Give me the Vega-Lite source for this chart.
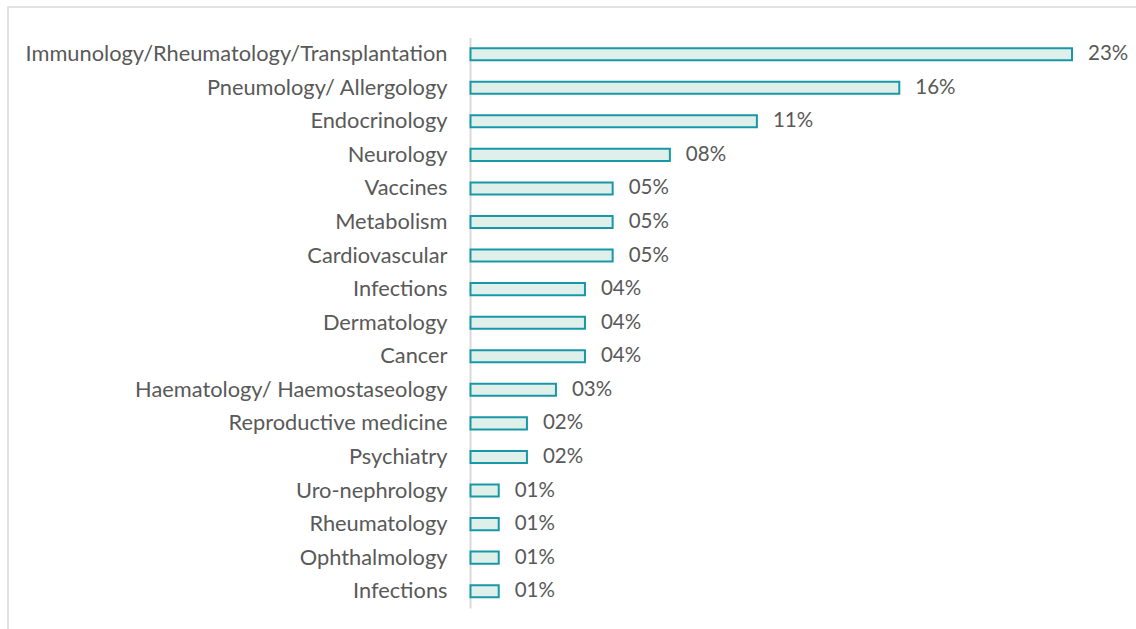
{
  "$schema": "https://vega.github.io/schema/vega-lite/v6.json",
  "width": 1136,
  "height": 630,
  "autosize": "none",
  "padding": {"left": 8, "top": 7, "right": 0, "bottom": 0},
  "config": {"view": {"stroke": "#d9d9d9", "strokeWidth": 1.5}, "font": "Lato"},
  "data": {
    "values": [
      {"category": "Immunology/Rheumatology/Transplantation", "share": 0.2302},
      {"category": "Pneumology/ Allergology", "share": 0.1641},
      {"category": "Endocrinology", "share": 0.1096},
      {"category": "Neurology", "share": 0.0763},
      {"category": "Vaccines", "share": 0.0544},
      {"category": "Metabolism", "share": 0.0544},
      {"category": "Cardiovascular", "share": 0.0544},
      {"category": "Infections", "share": 0.0438},
      {"category": "Dermatology", "share": 0.0438},
      {"category": "Cancer ", "share": 0.0438},
      {"category": "Haematology/ Haemostaseology", "share": 0.0327},
      {"category": "Reproductive medicine", "share": 0.0216},
      {"category": "Psychiatry", "share": 0.0216},
      {"category": "Uro-nephrology", "share": 0.0108},
      {"category": "Rheumatology", "share": 0.0108},
      {"category": "Ophthalmology", "share": 0.0108},
      {"category": "Infections ", "share": 0.0108}
    ]
  },
  "encoding": {
    "y": {
      "field": "category",
      "type": "nominal",
      "sort": null,
      "scale": {"range": [30.4, 601], "paddingInner": 0.64, "paddingOuter": 0.32},
      "axis": {
        "orient": "left",
        "offset": -462,
        "title": null,
        "grid": false,
        "ticks": false,
        "tickSize": 0,
        "domainColor": "#d9d9d9",
        "domainWidth": 2,
        "labelFont": "Lato",
        "labelFontSize": 21.8,
        "labelColor": "#595959",
        "labelPadding": 23,
        "labelLimit": 0,
        "labelOverlap": false
      }
    },
    "x": {
      "field": "share",
      "type": "quantitative",
      "scale": {"domain": [-0.177, 0.25775], "nice": false, "zero": false},
      "axis": null
    }
  },
  "layer": [
    {
      "mark": {"type": "bar", "fill": "#dff0eb", "stroke": "#1898a6", "strokeWidth": 2}
    },
    {
      "mark": {"type": "text", "align": "left", "baseline": "middle", "dx": 16, "fontSize": 20.5, "color": "#595959", "font": "Lato"},
      "encoding": {"text": {"field": "share", "type": "quantitative", "format": "03.0%"}}
    }
  ]
}
